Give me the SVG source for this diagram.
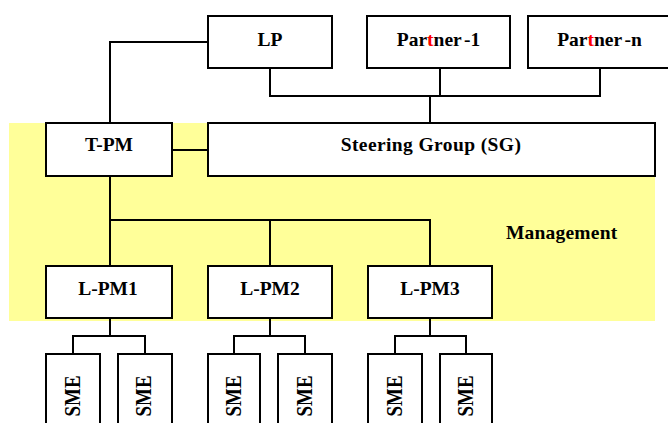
<svg xmlns="http://www.w3.org/2000/svg" width="668" height="423" viewBox="0 0 668 423">
<style>
.box{fill:#fff;stroke:#000;stroke-width:2}
.t{font-family:"Liberation Serif","Times New Roman",serif;font-weight:bold;font-size:19.5px;fill:#000;text-anchor:middle}
.sme{font-family:"Liberation Serif","Times New Roman",serif;font-weight:bold;font-size:24px;fill:#000;text-anchor:middle}
.c{fill:none;stroke:#000;stroke-width:2}
.red{fill:#ff0000}
</style>
<rect id="management-area" x="9" y="123" width="646" height="198" fill="#ffff99"/>
<text class="t" x="506" y="239" style="text-anchor:start;letter-spacing:0.2px">Management</text>
<g id="connectors">
<path class="c" d="M208 42 H110 V123"/>
<path class="c" d="M270 68 V96 H600 V68"/>
<path class="c" d="M440 68 V96"/>
<path class="c" d="M430 96 V123"/>
<path class="c" d="M172 150 H208"/>
<path class="c" d="M110 176 V266"/>
<path class="c" d="M110 220 H430 V266"/>
<path class="c" d="M270 220 V266"/>
<path class="c" d="M110 318 V336"/>
<path class="c" d="M73 354 V336 H145 V354"/>
<path class="c" d="M270 318 V336"/>
<path class="c" d="M234 354 V336 H305 V354"/>
<path class="c" d="M430 318 V336"/>
<path class="c" d="M395 354 V336 H466 V354"/>
</g>
<g id="LP"><rect class="box" x="208" y="16" width="124" height="52"/><text class="t" x="270" y="46">LP</text></g>
<g id="Partner-1"><rect class="box" x="367" y="16" width="143" height="52"/><text class="t" x="438.5" y="46">Par<tspan class="red">t</tspan>ner<tspan dx="3">-1</tspan></text></g>
<g id="Partner-n"><rect class="box" x="528" y="16" width="145" height="52"/><text class="t" x="599.5" y="46">Par<tspan class="red">t</tspan>ner<tspan dx="3">-n</tspan></text></g>
<g id="T-PM"><rect class="box" x="46" y="123" width="126" height="53"/><text class="t" x="109" y="151">T-PM</text></g>
<g id="SG"><rect class="box" x="208" y="123" width="447" height="53"/><text class="t" x="431" y="151" style="letter-spacing:0.4px">Steering Group (SG)</text></g>
<g id="L-PM1"><rect class="box" x="46" y="266" width="126" height="52"/><text class="t" x="108" y="295">L-PM1</text></g>
<g id="L-PM2"><rect class="box" x="208" y="266" width="124" height="52"/><text class="t" x="270" y="295">L-PM2</text></g>
<g id="L-PM3"><rect class="box" x="368" y="266" width="124" height="52"/><text class="t" x="430" y="295">L-PM3</text></g>
<g id="SME-1a"><rect class="box" x="46" y="354" width="54" height="80"/><text class="sme" transform="translate(80,396) rotate(-90)" textLength="41" lengthAdjust="spacingAndGlyphs">SME</text></g>
<g id="SME-1b"><rect class="box" x="118" y="354" width="54" height="80"/><text class="sme" transform="translate(151,396) rotate(-90)" textLength="41" lengthAdjust="spacingAndGlyphs">SME</text></g>
<g id="SME-2a"><rect class="box" x="208" y="354" width="52" height="80"/><text class="sme" transform="translate(241,396) rotate(-90)" textLength="41" lengthAdjust="spacingAndGlyphs">SME</text></g>
<g id="SME-2b"><rect class="box" x="278" y="354" width="54" height="80"/><text class="sme" transform="translate(312,396) rotate(-90)" textLength="41" lengthAdjust="spacingAndGlyphs">SME</text></g>
<g id="SME-3a"><rect class="box" x="368" y="354" width="54" height="80"/><text class="sme" transform="translate(402,396) rotate(-90)" textLength="41" lengthAdjust="spacingAndGlyphs">SME</text></g>
<g id="SME-3b"><rect class="box" x="440" y="354" width="52" height="80"/><text class="sme" transform="translate(473,396) rotate(-90)" textLength="41" lengthAdjust="spacingAndGlyphs">SME</text></g>
</svg>
